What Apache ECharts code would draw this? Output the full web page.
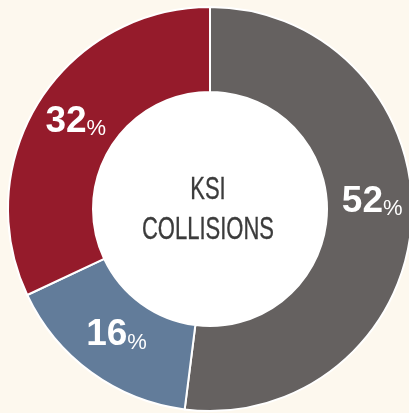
<!DOCTYPE html>
<html>
<head>
<meta charset="utf-8">
<script src="https://cdn.jsdelivr.net/npm/echarts@6/dist/echarts.min.js"></script>
<style>
html, body { margin: 0; padding: 0; background: #fdf8ee; }
#chart { width: 409px; height: 413px; }
</style>
</head>
<body>
<div id="chart"></div>
<script>
// share of KSI collisions, clockwise from 12 o'clock
var categories = ['Grey group', 'Blue group', 'Red group'];
var shares = [52, 16, 32];
var colors = ['#656160', '#627c9a', '#951b2b'];
var centerLines = ['KSI', 'COLLISIONS'];

// small nudges so labels sit where the original put them
var labelNudge = [[0, -19], [2, -7], [3, -2]];

var font = '"Liberation Sans Narrow", "Liberation Sans", sans-serif';

var seriesData = categories.map(function (c, i) {
    return {
        name: c,
        value: shares[i],
        itemStyle: { color: colors[i] },
        label: { offset: labelNudge[i] }
    };
});

var chart = echarts.init(document.getElementById('chart'));
chart.setOption({
    backgroundColor: '#fdf8ee',
    animation: false,
    graphic: [{
        type: 'text',
        x: 208,
        y: 210,
        scaleX: 0.71,
        z: 100,
        style: {
            text: centerLines.join('\n'),
            fill: '#3b3b3b',
            stroke: '#3b3b3b',
            lineWidth: 0.35,
            font: '31px ' + font,
            lineHeight: 40,
            align: 'center',
            verticalAlign: 'middle'
        }
    }],
    series: [{
        // white disc inside the ring
        type: 'pie',
        center: [210, 209],
        radius: [0, 117],
        silent: true,
        label: { show: false },
        labelLine: { show: false },
        itemStyle: { color: '#ffffff' },
        data: [{ name: 'hole', value: 1 }]
    }, {
        type: 'pie',
        center: [210, 209],
        radius: [117, 202],
        startAngle: 90,
        clockwise: true,
        itemStyle: { borderColor: '#ffffff', borderWidth: 2 },
        label: {
            show: true,
            position: 'inside',
            formatter: function (p) { return '{n|' + p.value + '}{p|%}'; },
            rich: {
                n: { fontFamily: font, fontSize: 37, fontWeight: 'bold', color: '#ffffff', verticalAlign: 'bottom', lineHeight: 40 },
                p: { fontFamily: font, fontSize: 22, color: '#ffffff', verticalAlign: 'bottom', lineHeight: 34 }
            }
        },
        labelLine: { show: false },
        emphasis: { disabled: true },
        data: seriesData
    }]
});
</script>
</body>
</html>
